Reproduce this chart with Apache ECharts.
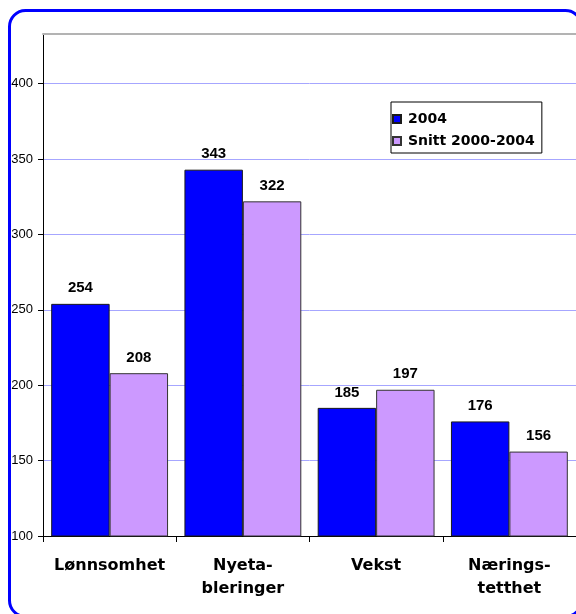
<!DOCTYPE html>
<html>
<head>
<meta charset="utf-8">
<script src="https://cdn.jsdelivr.net/npm/echarts@6/dist/echarts.min.js"></script>
<style>html,body{margin:0;padding:0;background:#fff}#c{width:576px;height:614px}</style>
</head>
<body>
<div id="c"></div>
<script>
var categories = ['Lønnsomhet', 'Nyeta-\nbleringer', 'Vekst', 'Nærings-\ntetthet'];
var series2004 = [254, 343, 185, 176];
var seriesSnitt = [208, 322, 197, 156];
var seriesNames = ['2004', 'Snitt 2000-2004'];
var yMin = 100, yMax = 433, yStep = 50;

var chart = echarts.init(document.getElementById('c'), null, {renderer: 'canvas'});
var labelCfg = {
  show: true, position: 'top', distance: 8,
  fontFamily: 'Liberation Sans', fontWeight: 'bold', fontSize: 15, color: '#000'
};
chart.setOption({
  animation: false,
  backgroundColor: '#fff',
  graphic: [{
    type: 'rect', left: 7, top: 8, z: -10,
    shape: {width: 572, height: 606, r: 16},
    style: {fill: 'none', stroke: '#0000ff', lineWidth: 3}
  }],
  grid: {left: 43, top: 34, right: -5, bottom: 78, containLabel: false},
  legend: {
    orient: 'vertical', left: 391, top: 102,
    padding: [10, 7, 5, 1],
    backgroundColor: '#fff', borderColor: '#000', borderWidth: 1,
    itemWidth: 8, itemHeight: 8, itemGap: 8,
    textStyle: {fontFamily: 'DejaVu Sans', fontWeight: 'bold', fontSize: 14, color: '#000', lineHeight: 14, padding: [0, 0, 0, 2]},
    icon: 'rect',
    data: seriesNames
  },
  xAxis: [{
    type: 'category', data: categories,
    axisLine: {lineStyle: {color: '#000', width: 1}},
    axisTick: {show: true, length: 6, lineStyle: {color: '#000'}},
    axisLabel: {interval: 0, margin: 18, fontFamily: 'DejaVu Sans', fontWeight: 'bold', fontSize: 16, color: '#000', lineHeight: 23}
  }, {
    type: 'category', data: categories, position: 'top',
    axisLine: {lineStyle: {color: '#b3b3b3', width: 2}},
    axisTick: {show: false}, axisLabel: {show: false}
  }],
  yAxis: {
    type: 'value', min: yMin, max: yMax, interval: yStep,
    axisLine: {show: true, lineStyle: {color: '#000', width: 1}},
    axisTick: {show: true, length: 5, lineStyle: {color: '#000'}},
    axisLabel: {showMaxLabel: false, margin: 10, fontFamily: 'Liberation Sans', fontSize: 13, color: '#000'},
    splitLine: {show: true, showMaxLine: false, showMinLine: false, lineStyle: {color: '#a6a6ff', width: 1}}
  },
  series: [{
    name: seriesNames[0], type: 'bar', data: series2004,
    barGap: '0%', barCategoryGap: '12.3%',
    itemStyle: {color: '#0000ff', borderColor: '#1a1a1a', borderWidth: 1},
    label: labelCfg
  }, {
    name: seriesNames[1], type: 'bar', data: seriesSnitt,
    itemStyle: {color: '#cc99ff', borderColor: '#333', borderWidth: 1},
    label: labelCfg
  }]
});
</script>
</body>
</html>
